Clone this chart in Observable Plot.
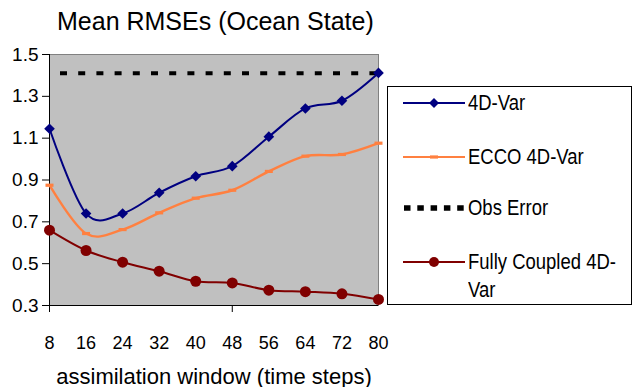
<!DOCTYPE html>
<html><head><meta charset="utf-8">
<script src="https://cdn.jsdelivr.net/npm/d3@7"></script>
<script src="https://cdn.jsdelivr.net/npm/@observablehq/plot@0.6"></script>
<style>
body{margin:0;background:#fff;}
#wrap{position:relative;width:643px;height:387px;font-family:"Liberation Sans",Arial,sans-serif;color:#000;}
#chart{position:absolute;left:0;top:0;}
#title{position:absolute;left:57px;top:9px;font-size:25px;line-height:25px;white-space:nowrap;}
#legend{position:absolute;left:387px;top:86px;width:245px;height:219px;border:1px solid #000;background:#fff;box-sizing:border-box;}
.item{position:absolute;left:0;width:240px;}
.item svg{position:absolute;left:15px;top:0;}
.item span{position:absolute;left:80px;top:0;font-family:"Liberation Sans",Arial,sans-serif;font-size:22px;line-height:28px;white-space:nowrap;transform:scaleX(0.84);transform-origin:0 50%;}
</style></head>
<body>
<div id="wrap">
  <div id="chart"></div>
  <div id="title"></div>
  <div id="legend"></div>
</div>
<script>
const titleText = "Mean RMSEs (Ocean State)";
const xLabel = "assimilation window (time steps)";
const windows = [8, 16, 24, 32, 40, 48, 56, 64, 72, 80];
const var4d   = [1.145, 0.740, 0.740, 0.839, 0.918, 0.966, 1.107, 1.242, 1.279, 1.412];
const ecco    = [0.875, 0.644, 0.663, 0.743, 0.813, 0.851, 0.941, 1.014, 1.022, 1.076];
const coupled = [0.660, 0.563, 0.507, 0.464, 0.416, 0.408, 0.373, 0.366, 0.356, 0.329];
const obsError = 1.41;
const yTicks = [0.3, 0.5, 0.7, 0.9, 1.1, 1.3, 1.5];
const seriesNames = ["4D-Var", "ECCO 4D-Var", "Obs Error", "Fully Coupled 4D-Var"];
const colors = {"4D-Var": "#000080", "ECCO 4D-Var": "#ff8040", "Obs Error": "#000000", "Fully Coupled 4D-Var": "#800000"};

const rows = (vals) => windows.map((w, i) => ({w, v: vals[i]}));
const dashSymbol = {draw(ctx) { ctx.moveTo(-4, -1.6); ctx.lineTo(4, -1.6); ctx.lineTo(4, 1.6); ctx.lineTo(-4, 1.6); ctx.closePath(); }};

const plot = Plot.plot({
  width: 643, height: 387,
  marginLeft: 49, marginRight: 265, marginTop: 54, marginBottom: 82,
  style: {fontFamily: '"Liberation Sans", Arial, sans-serif', color: "#000", background: "transparent"},
  x: {domain: [8, 80]},
  y: {domain: [0.3, 1.5]},
  marks: [
    Plot.frame({fill: "#c0c0c0", stroke: "#808080"}),
    Plot.ruleX([8], {stroke: "#000"}),
    Plot.ruleY([0.3], {stroke: "#000"}),
    Plot.ruleY([obsError], {stroke: colors["Obs Error"], strokeWidth: 4, strokeDasharray: "7,11.2", strokeDashoffset: -11}),
    Plot.line(rows(ecco), {x: "w", y: "v", curve: "cardinal", stroke: colors["ECCO 4D-Var"], strokeWidth: 2.4}),
    Plot.dot(rows(ecco), {x: "w", y: "v", symbol: dashSymbol, r: 4, fill: colors["ECCO 4D-Var"], stroke: "none"}),
    Plot.line(rows(var4d), {x: "w", y: "v", curve: "cardinal", stroke: colors["4D-Var"], strokeWidth: 2}),
    Plot.dot(rows(var4d), {x: "w", y: "v", symbol: "diamond2", r: 4.8, fill: colors["4D-Var"], stroke: "none"}),
    Plot.line(rows(coupled), {x: "w", y: "v", curve: "cardinal", stroke: colors["Fully Coupled 4D-Var"], strokeWidth: 2}),
    Plot.dot(rows(coupled), {x: "w", y: "v", symbol: "circle", r: 5.5, fill: colors["Fully Coupled 4D-Var"], stroke: "none"}),
    Plot.axisY(yTicks, {tickSize: 7, tickPadding: 4, fontSize: 19, tickFormat: d => d.toFixed(1), label: null, stroke: "#000"}),
    Plot.axisX([8, 48], {tickSize: 7, tickFormat: () => "", label: null, stroke: "#000"}),
    Plot.axisX(windows, {tickSize: 0, tickPadding: 31, fontSize: 18, tickFormat: d => String(d), label: xLabel, labelAnchor: "center", labelArrow: "none", labelOffset: 78})
  ]
});
document.getElementById("chart").appendChild(plot);
d3.select(plot).selectAll('g[aria-label="x-axis label"]').attr("font-size", 22);

document.getElementById("title").textContent = titleText;

// legend
const legend = document.getElementById("legend");
const tops = [2.3, 56.3, 107.3, 161.3];
seriesNames.forEach((name, i) => {
  const item = document.createElement("div");
  item.className = "item";
  item.style.top = tops[i] + "px";
  const c = colors[name];
  let marker = "";
  let line = `<line x1="0" x2="62" y1="14" y2="14" stroke="${c}" stroke-width="2"/>`;
  if (name === "4D-Var") marker = `<path d="M31,9 L36,14 L31,19 L26,14 Z" fill="${c}"/>`;
  if (name === "ECCO 4D-Var") marker = `<rect x="27" y="12.4" width="8" height="3.2" fill="${c}"/>`;
  if (name === "Fully Coupled 4D-Var") marker = `<circle cx="31" cy="14" r="5" fill="${c}"/>`;
  if (name === "Obs Error") line = `<line x1="1" x2="62" y1="14" y2="14" stroke="${c}" stroke-width="5.5" stroke-dasharray="6.5,6.8"/>`;
  const label = name === "Fully Coupled 4D-Var" ? "Fully Coupled 4D-<br>Var" : name;
  item.innerHTML = `<svg width="64" height="28">${line}${marker}</svg><span>${label}</span>`;
  legend.appendChild(item);
});
</script>
</body></html>
